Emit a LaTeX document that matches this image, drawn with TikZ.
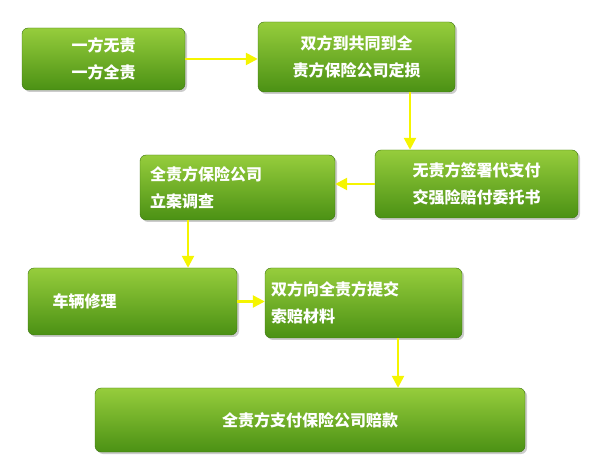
\documentclass[tikz,border=0pt]{standalone}
\usepackage{fontspec}
\newfontfamily\cjk{Noto Sans CJK SC}
\usetikzlibrary{arrows.meta,shadows}
\definecolor{gtop}{RGB}{150,205,60}
\definecolor{gbot}{RGB}{75,145,20}
\definecolor{arrowy}{RGB}{245,245,0}
\tikzset{
  stepbox/.style={draw=gbot!80!black,rounded corners=6pt,top color=gtop,bottom color=gbot,
    text=white,font=\cjk\bfseries\fontsize{16}{27}\selectfont,inner sep=0pt,
    drop shadow={shadow xshift=2pt,shadow yshift=-2pt,opacity=0.4}},
  flow/.style={draw=arrowy,line width=2.5pt,-{Triangle[length=12pt,width=12pt]}}
}
\begin{document}
\begin{tikzpicture}[x=1pt,y=1pt,yscale=-1]
  \useasboundingbox (0,0) rectangle (600,470);

  % boxes
  \node[stepbox,minimum width=163,minimum height=62,align=center] (blame) at (103.5,59) {一方无责\\一方全责};
  \node[stepbox,minimum width=197,minimum height=70,align=center] (assess) at (356.5,57) {双方到共同到全\\责方保险公司定损};
  \node[stepbox,minimum width=203,minimum height=68,align=center] (entrust) at (476.5,184) {无责方签署代支付\\交强险赔付委托书};
  \node[stepbox,minimum width=195,minimum height=65,align=left,text width=175] (survey) at (237.5,187.5) {全责方保险公司\\立案调查};
  \node[stepbox,minimum width=209,minimum height=67,align=left,text width=160] (repair) at (132.5,301.5) {车辆修理};
  \node[stepbox,minimum width=197,minimum height=70,align=left,text width=185] (claim) at (363.5,303) {双方向全责方提交\\索赔材料};
  \node[stepbox,minimum width=430,minimum height=64,align=center] (pay) at (310,420) {全责方支付保险公司赔款};

  % arrows
  \draw[flow] (blame.east) -- (assess.west |- blame.east);
  \draw[flow] (assess.south -| 410,0) -- (entrust.north -| 410,0);
  \draw[flow] (entrust.west) -- (survey.east |- entrust.west);
  \draw[flow] (survey.south -| 188,0) -- (repair.north -| 188,0);
  \draw[flow] (repair.east) -- (claim.west |- repair.east);
  \draw[flow] (claim.south -| 398,0) -- (pay.north -| 398,0);
\end{tikzpicture}
\end{document}
